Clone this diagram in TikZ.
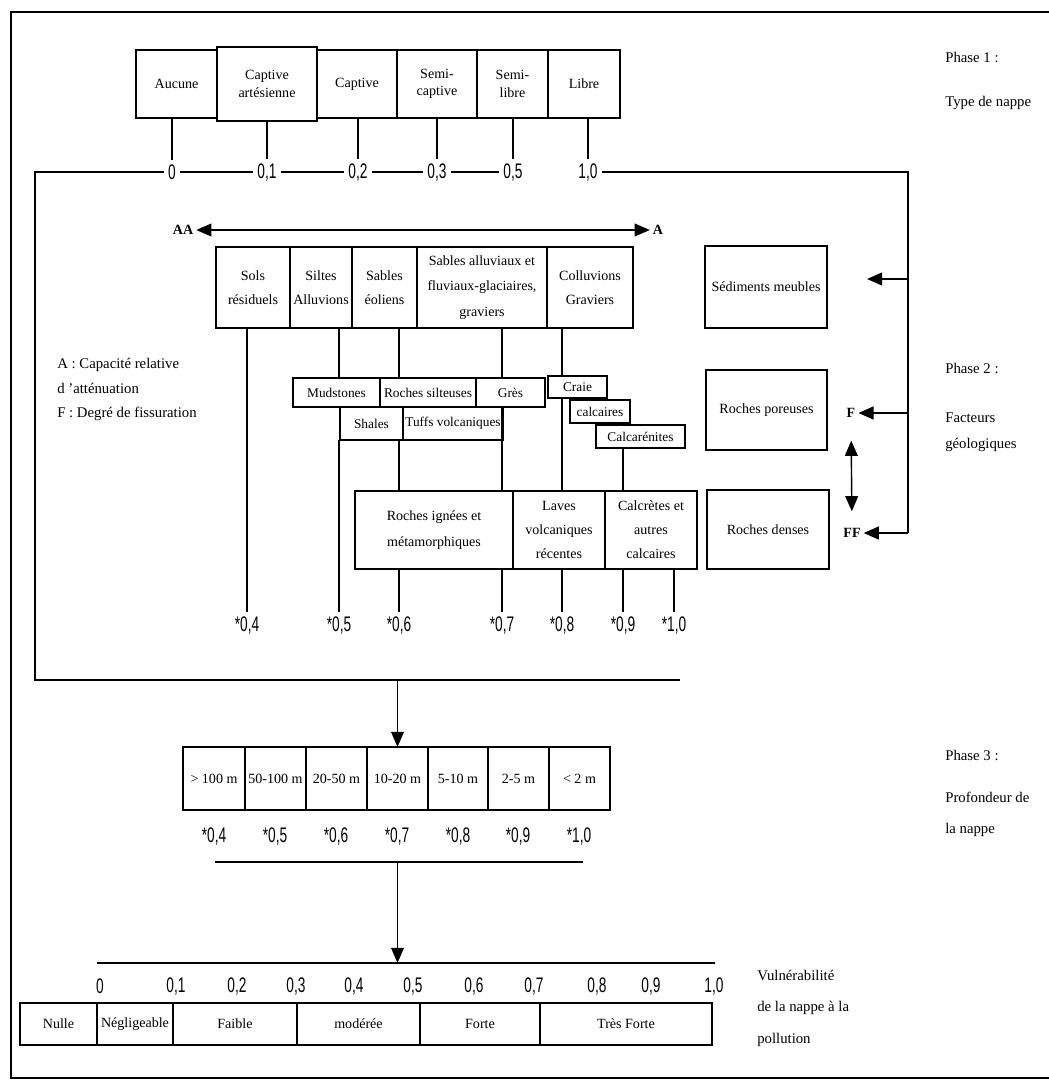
\documentclass[tikz,border=0pt]{standalone}
\usepackage{fontspec}
\setmainfont{Liberation Serif}
\newfontfamily\numfont[FakeStretch=0.65]{Liberation Sans}
\usetikzlibrary{arrows.meta,calc}

\begin{document}
\begin{tikzpicture}[x=0.025cm,y=-0.025cm,
  % a rectangle given by its corners (x1,y1) and (x2,y2)
  cell/.style n args={4}{minimum width={(#3-#1)*0.025cm}, minimum height={(#4-#2)*0.025cm},
    at={({(#1+#3)/2},{(#2+#4)/2})}},
  box/.style={draw, line width=1pt, inner sep=0pt, outer sep=0pt, align=center,
    font=\fontsize{10}{12.5}\selectfont},
  tallbox/.style={box, font=\fontsize{10}{17.5}\selectfont},
  smallbox/.style={box, font=\fontsize{9.5}{11}\selectfont},
  lbl/.style={anchor=west, inner sep=0pt, font=\fontsize{10.5}{13}\selectfont},
  num/.style={inner sep=3pt, font=\numfont\fontsize{15}{15}\selectfont},
  endlabel/.style={inner sep=2pt, font=\fontsize{10}{12}\selectfont\bfseries},
  conn/.style={line width=1pt},
  brk/.style={line width=1.5pt},
  mytip/.tip={Triangle[length=0.38cm,width=0.32cm]}
]
\useasboundingbox (0,0) rectangle (1049,1086);

% outer frame
\draw[line width=1.6pt] (1049,12) -- (11,12) -- (11,1078) -- (1049,1078);

% ---------------- Phase 1 : type de nappe ----------------
\node[box, cell={136}{50}{217}{118}] (aucune) {Aucune};
\node[box, cell={217}{47}{317}{121}] (cartes) {Captive\\artésienne};
\node[box, cell={317}{50}{397}{118}] (captive) {Captive};
\node[box, cell={397}{50}{477}{118}] (semicap) {Semi-\\captive};
\node[box, cell={477}{50}{548}{118}] (semilib) {Semi-\\libre};
\node[box, cell={548}{50}{620}{118}] (libre) {Libre};

\node[num] (t0)  at (172,172) {0};
\node[num] (t01) at (267,172) {0,1};
\node[num] (t02) at (358,172) {0,2};
\node[num] (t03) at (437,172) {0,3};
\node[num] (t05) at (513,172) {0,5};
\node[num] (t10) at (588,172) {1,0};

\foreach \b/\t in {aucune/t0, cartes/t01, captive/t02, semicap/t03, semilib/t05, libre/t10}
  \draw[conn] (\b.south -| \t.north) -- (\t.north);

\node[lbl] (ph1a) at (945,57) {Phase 1 :};
\node[lbl] (ph1b) at (945,103) {Type de nappe};

% bracket collecting phase 1 into phase 2
\coordinate (tl) at (35,172);
\coordinate (bl) at (35,680);
\coordinate (br) at (680,680);
\coordinate (tr) at (908,172);
\coordinate (rb) at (908,533);
\draw[brk] (t0.west) -- (tl) -- (bl) -- (br);
\draw[brk] (t0.east) -- (t01.west);
\draw[brk] (t01.east) -- (t02.west);
\draw[brk] (t02.east) -- (t03.west);
\draw[brk] (t03.east) -- (t05.west);
\draw[brk] (t10.east) -- (tr) -- (rb);

% ---------------- Phase 2 : facteurs géologiques ----------------
\node[endlabel] (AA) at (183,230) {AA};
\node[endlabel] (A) at (658,230) {A};
\draw[conn, {mytip}-{mytip}] (AA.east) -- (A.west);

\node[tallbox, cell={216}{247}{290}{328}] (sols) {Sols\\résiduels};
\node[tallbox, cell={290}{247}{352}{328}] (silt) {Siltes\\Alluvions};
\node[tallbox, cell={352}{247}{417}{328}] (eol) {Sables\\éoliens};
\node[box, cell={417}{247}{547}{328}, font=\fontsize{10}{18}\selectfont] (alluv) {Sables alluviaux et\\fluviaux-glaciaires,\\graviers};
\node[tallbox, cell={547}{247}{633}{328}] (coll) {Colluvions\\Graviers};

\node[smallbox, cell={293}{378}{380}{407}] (mud) {Mudstones};
\node[smallbox, cell={380}{378}{476}{407}] (rsil) {Roches silteuses};
\node[smallbox, cell={476}{378}{545}{407}] (gres) {Grès};
\node[smallbox, cell={548}{376}{607}{398}] (craie) {Craie};
\node[smallbox, cell={570}{400}{630}{423}] (calc) {calcaires};
\node[smallbox, cell={596}{425}{685}{448}] (calcar) {Calcarénites};
\node[smallbox, cell={340}{407}{403}{440}] (shal) {Shales};
\node[smallbox, cell={403}{407}{503}{440}] (tuff) {Tuffs volcaniques};

\node[box, cell={355}{491}{513}{569}, font=\fontsize{10}{19}\selectfont] (ign) {Roches ignées et\\métamorphiques};
\node[box, cell={513}{491}{605}{569}, font=\fontsize{10}{17}\selectfont] (lav) {Laves\\volcaniques\\récentes};
\node[box, cell={605}{491}{697}{569}, font=\fontsize{10}{17}\selectfont] (calcr) {Calcrètes et\\autres\\calcaires};

\node[num] (v04) at (247,625) {*0,4};
\node[num] (v05) at (339,625) {*0,5};
\node[num] (v06) at (399,625) {*0,6};
\node[num] (v07) at (502,625) {*0,7};
\node[num] (v08) at (562,625) {*0,8};
\node[num] (v09) at (623,625) {*0,9};
\node[num] (v10) at (674,625) {*1,0};

% vertical links through the rock classes
\draw[conn] (sols.south -| v04) -- (v04.north);
\draw[conn] (silt.south -| v05) -- (mud.north -| v05);
\draw[conn] (shal.south -| v05) -- (v05.north);
\draw[conn] (eol.south -| v06) -- (rsil.north -| v06);
\draw[conn] (tuff.south -| v06) -- (ign.north -| v06);
\draw[conn] (ign.south -| v06) -- (v06.north);
\draw[conn] (alluv.south -| v07) -- (gres.north -| v07);
\draw[conn] (gres.south -| v07) -- (ign.north -| v07);
\draw[conn] (ign.south -| v07) -- (v07.north);
\draw[conn] (coll.south -| v08) -- (craie.north -| v08);
\draw[conn] (craie.south -| v08) -- (lav.north -| v08);
\draw[conn] (lav.south -| v08) -- (v08.north);
\draw[conn] (calcar.south -| v09) -- (calcr.north -| v09);
\draw[conn] (calcr.south -| v09) -- (v09.north);
\draw[conn] (calcr.south -| v10) -- (v10.north);

% legend
\node[lbl] (legA) at (57,365) {A : Capacité relative};
\node[lbl] (legA2) at (57,388) {d 'atténuation};
\node[lbl] (legF) at (57,414) {F : Degré de fissuration};

% right column: sediment / rock type
\node[box, cell={705}{246}{827}{328}] (sed) {Sédiments meubles};
\node[box, cell={706}{370}{827}{450}] (por) {Roches poreuses};
\node[box, cell={707}{490}{829}{569}] (den) {Roches denses};

\node[endlabel] (F) at (851,413) {F};
\node[endlabel] (FF) at (852,533) {FF};
\coordinate (sedtip) at (867,279);
\draw[brk, -{mytip}] (tr |- sedtip) -- (sedtip);
\draw[brk, -{mytip}] (tr |- F) -- (F.east);
\draw[brk, -{mytip}] (rb) -- (FF.east);
\draw[conn, {mytip}-{mytip}, shorten <=0.5cm, shorten >=0.35cm] (F.south) -- (FF.north);

\node[lbl] (ph2a) at (945,368) {Phase 2 :};
\node[lbl] (ph2b) at (945,418) {Facteurs};
\node[lbl] (ph2c) at (945,445) {géologiques};

% ---------------- Phase 3 : profondeur de la nappe ----------------
\node[box, cell={183}{747}{245}{810}] (q1) {> 100 m};
\node[box, cell={245}{747}{306}{810}] (q2) {50-100 m};
\node[box, cell={306}{747}{367}{810}] (q3) {20-50 m};
\node[box, cell={367}{747}{428}{810}] (q4) {10-20 m};
\node[box, cell={428}{747}{488}{810}] (q5) {5-10 m};
\node[box, cell={488}{747}{549}{810}] (q6) {2-5 m};
\node[box, cell={549}{747}{610}{810}] (q7) {< 2 m};

\draw[conn, -{mytip}] (q4 |- bl) -- (q4.north);

\node[num] (w1) at (214,836) {*0,4};
\node[num] (w2) at (275,836) {*0,5};
\node[num] (w3) at (336,836) {*0,6};
\node[num] (w4) at (397,836) {*0,7};
\node[num] (w5) at (458,836) {*0,8};
\node[num] (w6) at (518,836) {*0,9};
\node[num] (w7) at (579,836) {*1,0};

\coordinate (pl) at (215,862);
\coordinate (pr) at (583,862);
\draw[brk] (pl) -- (pr);

\node[lbl] (ph3a) at (945,755) {Phase 3 :};
\node[lbl] (ph3b) at (945,797) {Profondeur de};
\node[lbl] (ph3c) at (945,830) {la nappe};

% ---------------- Vulnérabilité ----------------
\coordinate (sl) at (97,963);
\coordinate (sr) at (715,963);
\draw[line width=2pt] (sl) -- (sr);
\draw[conn, -{mytip}] (q4 |- pl) -- (q4 |- sl);

\node[num] (s0)  at (100,986) {0};
\node[num] (s1)  at (176,986) {0,1};
\node[num] (s2)  at (237,986) {0,2};
\node[num] (s3)  at (296,986) {0,3};
\node[num] (s4)  at (354,986) {0,4};
\node[num] (s5)  at (413,986) {0,5};
\node[num] (s6)  at (474,986) {0,6};
\node[num] (s7)  at (534,986) {0,7};
\node[num] (s8)  at (597,986) {0,8};
\node[num] (s9)  at (651,986) {0,9};
\node[num] (s10) at (714,986) {1,0};

\node[box, cell={20}{1003}{97}{1045}] (nulle) {Nulle};
\node[box, cell={97}{1003}{173}{1045}] (negl) {Négligeable};
\node[box, cell={173}{1003}{297}{1045}] (faible) {Faible};
\node[box, cell={297}{1003}{420}{1045}] (moder) {modérée};
\node[box, cell={420}{1003}{540}{1045}] (forte) {Forte};
\node[box, cell={540}{1003}{712}{1045}] (tforte) {Très Forte};

\node[lbl] (vul1) at (757,975) {Vulnérabilité};
\node[lbl] (vul2) at (757,1008) {de la nappe à la};
\node[lbl] (vul3) at (757,1040) {pollution};
\end{tikzpicture}
\end{document}
